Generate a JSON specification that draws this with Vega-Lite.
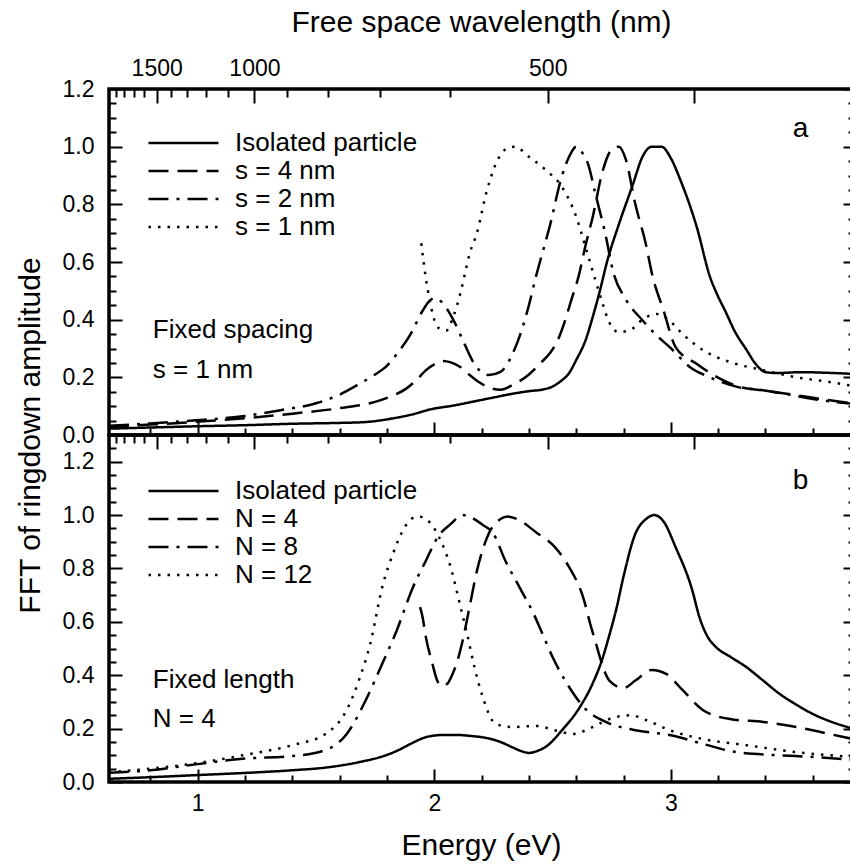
{
  "$schema": "https://vega.github.io/schema/vega-lite/v6.json",
  "padding": {"left": 13, "top": 5, "right": 0, "bottom": 0},
  "background": "white",
  "bounds": "flush",
  "spacing": 0,
  "datasets": {
    "a": [
      {"s": "Isolated particle", "E": 0.625, "v": 0.022},
      {"s": "Isolated particle", "E": 0.8, "v": 0.026},
      {"s": "Isolated particle", "E": 0.98, "v": 0.03},
      {"s": "Isolated particle", "E": 1.2, "v": 0.034},
      {"s": "Isolated particle", "E": 1.4, "v": 0.039},
      {"s": "Isolated particle", "E": 1.6, "v": 0.042},
      {"s": "Isolated particle", "E": 1.71, "v": 0.045},
      {"s": "Isolated particle", "E": 1.82, "v": 0.057},
      {"s": "Isolated particle", "E": 1.9, "v": 0.07},
      {"s": "Isolated particle", "E": 1.99, "v": 0.09},
      {"s": "Isolated particle", "E": 2.08, "v": 0.102},
      {"s": "Isolated particle", "E": 2.16, "v": 0.115},
      {"s": "Isolated particle", "E": 2.25, "v": 0.13},
      {"s": "Isolated particle", "E": 2.33, "v": 0.143},
      {"s": "Isolated particle", "E": 2.4, "v": 0.152},
      {"s": "Isolated particle", "E": 2.46, "v": 0.158},
      {"s": "Isolated particle", "E": 2.5, "v": 0.168},
      {"s": "Isolated particle", "E": 2.53, "v": 0.184},
      {"s": "Isolated particle", "E": 2.57, "v": 0.215},
      {"s": "Isolated particle", "E": 2.6, "v": 0.26},
      {"s": "Isolated particle", "E": 2.64, "v": 0.33},
      {"s": "Isolated particle", "E": 2.67, "v": 0.41},
      {"s": "Isolated particle", "E": 2.7, "v": 0.5},
      {"s": "Isolated particle", "E": 2.73, "v": 0.6},
      {"s": "Isolated particle", "E": 2.78, "v": 0.73},
      {"s": "Isolated particle", "E": 2.84, "v": 0.87},
      {"s": "Isolated particle", "E": 2.88, "v": 0.965},
      {"s": "Isolated particle", "E": 2.92, "v": 1.0},
      {"s": "Isolated particle", "E": 2.96, "v": 1.0},
      {"s": "Isolated particle", "E": 3.0, "v": 0.96},
      {"s": "Isolated particle", "E": 3.04, "v": 0.885},
      {"s": "Isolated particle", "E": 3.11, "v": 0.72},
      {"s": "Isolated particle", "E": 3.165, "v": 0.55},
      {"s": "Isolated particle", "E": 3.2, "v": 0.48},
      {"s": "Isolated particle", "E": 3.23, "v": 0.43},
      {"s": "Isolated particle", "E": 3.27, "v": 0.36},
      {"s": "Isolated particle", "E": 3.32, "v": 0.295},
      {"s": "Isolated particle", "E": 3.36, "v": 0.245},
      {"s": "Isolated particle", "E": 3.4, "v": 0.218},
      {"s": "Isolated particle", "E": 3.45, "v": 0.215},
      {"s": "Isolated particle", "E": 3.55, "v": 0.218},
      {"s": "Isolated particle", "E": 3.65, "v": 0.216},
      {"s": "Isolated particle", "E": 3.77, "v": 0.212},

      {"s": "s = 4 nm", "E": 0.625, "v": 0.028},
      {"s": "s = 4 nm", "E": 0.8, "v": 0.036},
      {"s": "s = 4 nm", "E": 0.98, "v": 0.045},
      {"s": "s = 4 nm", "E": 1.2, "v": 0.058},
      {"s": "s = 4 nm", "E": 1.4, "v": 0.074},
      {"s": "s = 4 nm", "E": 1.6, "v": 0.093},
      {"s": "s = 4 nm", "E": 1.75, "v": 0.115},
      {"s": "s = 4 nm", "E": 1.82, "v": 0.135},
      {"s": "s = 4 nm", "E": 1.88, "v": 0.16},
      {"s": "s = 4 nm", "E": 1.93, "v": 0.195},
      {"s": "s = 4 nm", "E": 1.965, "v": 0.225},
      {"s": "s = 4 nm", "E": 2.0, "v": 0.245},
      {"s": "s = 4 nm", "E": 2.036, "v": 0.257},
      {"s": "s = 4 nm", "E": 2.07, "v": 0.252},
      {"s": "s = 4 nm", "E": 2.11, "v": 0.236},
      {"s": "s = 4 nm", "E": 2.15, "v": 0.208},
      {"s": "s = 4 nm", "E": 2.19, "v": 0.183},
      {"s": "s = 4 nm", "E": 2.23, "v": 0.165},
      {"s": "s = 4 nm", "E": 2.28, "v": 0.157},
      {"s": "s = 4 nm", "E": 2.33, "v": 0.173},
      {"s": "s = 4 nm", "E": 2.4, "v": 0.21},
      {"s": "s = 4 nm", "E": 2.45, "v": 0.25},
      {"s": "s = 4 nm", "E": 2.49, "v": 0.285},
      {"s": "s = 4 nm", "E": 2.52, "v": 0.325},
      {"s": "s = 4 nm", "E": 2.55, "v": 0.39},
      {"s": "s = 4 nm", "E": 2.58, "v": 0.47},
      {"s": "s = 4 nm", "E": 2.61, "v": 0.55},
      {"s": "s = 4 nm", "E": 2.64, "v": 0.66},
      {"s": "s = 4 nm", "E": 2.67, "v": 0.757},
      {"s": "s = 4 nm", "E": 2.71, "v": 0.91},
      {"s": "s = 4 nm", "E": 2.75, "v": 0.99},
      {"s": "s = 4 nm", "E": 2.78, "v": 1.0},
      {"s": "s = 4 nm", "E": 2.81, "v": 0.955},
      {"s": "s = 4 nm", "E": 2.85, "v": 0.8},
      {"s": "s = 4 nm", "E": 2.895, "v": 0.66},
      {"s": "s = 4 nm", "E": 2.92, "v": 0.56},
      {"s": "s = 4 nm", "E": 2.97, "v": 0.43},
      {"s": "s = 4 nm", "E": 3.02, "v": 0.305},
      {"s": "s = 4 nm", "E": 3.107, "v": 0.248},
      {"s": "s = 4 nm", "E": 3.22, "v": 0.19},
      {"s": "s = 4 nm", "E": 3.29, "v": 0.167},
      {"s": "s = 4 nm", "E": 3.39, "v": 0.155},
      {"s": "s = 4 nm", "E": 3.53, "v": 0.138},
      {"s": "s = 4 nm", "E": 3.65, "v": 0.123},
      {"s": "s = 4 nm", "E": 3.77, "v": 0.109},

      {"s": "s = 2 nm", "E": 0.625, "v": 0.032},
      {"s": "s = 2 nm", "E": 0.8, "v": 0.04},
      {"s": "s = 2 nm", "E": 0.98, "v": 0.05},
      {"s": "s = 2 nm", "E": 1.2, "v": 0.066},
      {"s": "s = 2 nm", "E": 1.35, "v": 0.086},
      {"s": "s = 2 nm", "E": 1.5, "v": 0.11},
      {"s": "s = 2 nm", "E": 1.6, "v": 0.14},
      {"s": "s = 2 nm", "E": 1.685, "v": 0.178},
      {"s": "s = 2 nm", "E": 1.75, "v": 0.21},
      {"s": "s = 2 nm", "E": 1.795, "v": 0.236},
      {"s": "s = 2 nm", "E": 1.85, "v": 0.29},
      {"s": "s = 2 nm", "E": 1.9, "v": 0.35},
      {"s": "s = 2 nm", "E": 1.95, "v": 0.43},
      {"s": "s = 2 nm", "E": 1.98, "v": 0.465},
      {"s": "s = 2 nm", "E": 2.0, "v": 0.475},
      {"s": "s = 2 nm", "E": 2.03, "v": 0.462},
      {"s": "s = 2 nm", "E": 2.08, "v": 0.4},
      {"s": "s = 2 nm", "E": 2.12, "v": 0.33},
      {"s": "s = 2 nm", "E": 2.16, "v": 0.26},
      {"s": "s = 2 nm", "E": 2.19, "v": 0.225},
      {"s": "s = 2 nm", "E": 2.23, "v": 0.208},
      {"s": "s = 2 nm", "E": 2.28, "v": 0.219},
      {"s": "s = 2 nm", "E": 2.33, "v": 0.28},
      {"s": "s = 2 nm", "E": 2.37, "v": 0.365},
      {"s": "s = 2 nm", "E": 2.4, "v": 0.45},
      {"s": "s = 2 nm", "E": 2.43, "v": 0.55},
      {"s": "s = 2 nm", "E": 2.46, "v": 0.64},
      {"s": "s = 2 nm", "E": 2.49, "v": 0.73},
      {"s": "s = 2 nm", "E": 2.535, "v": 0.885},
      {"s": "s = 2 nm", "E": 2.57, "v": 0.965},
      {"s": "s = 2 nm", "E": 2.6, "v": 1.0},
      {"s": "s = 2 nm", "E": 2.625, "v": 0.98},
      {"s": "s = 2 nm", "E": 2.65, "v": 0.94},
      {"s": "s = 2 nm", "E": 2.68, "v": 0.84},
      {"s": "s = 2 nm", "E": 2.725, "v": 0.69},
      {"s": "s = 2 nm", "E": 2.755, "v": 0.57},
      {"s": "s = 2 nm", "E": 2.81, "v": 0.47},
      {"s": "s = 2 nm", "E": 2.88, "v": 0.398},
      {"s": "s = 2 nm", "E": 2.94, "v": 0.345},
      {"s": "s = 2 nm", "E": 2.995, "v": 0.305},
      {"s": "s = 2 nm", "E": 3.08, "v": 0.236},
      {"s": "s = 2 nm", "E": 3.165, "v": 0.2},
      {"s": "s = 2 nm", "E": 3.28, "v": 0.167},
      {"s": "s = 2 nm", "E": 3.39, "v": 0.155},
      {"s": "s = 2 nm", "E": 3.5, "v": 0.14},
      {"s": "s = 2 nm", "E": 3.6, "v": 0.125},
      {"s": "s = 2 nm", "E": 3.77, "v": 0.108},

      {"s": "s = 1 nm", "E": 1.945, "v": 0.665},
      {"s": "s = 1 nm", "E": 1.955, "v": 0.6},
      {"s": "s = 1 nm", "E": 1.965, "v": 0.54},
      {"s": "s = 1 nm", "E": 1.98, "v": 0.47},
      {"s": "s = 1 nm", "E": 2.0, "v": 0.4},
      {"s": "s = 1 nm", "E": 2.02, "v": 0.37},
      {"s": "s = 1 nm", "E": 2.05, "v": 0.362},
      {"s": "s = 1 nm", "E": 2.08, "v": 0.41},
      {"s": "s = 1 nm", "E": 2.11, "v": 0.49},
      {"s": "s = 1 nm", "E": 2.135, "v": 0.58},
      {"s": "s = 1 nm", "E": 2.15, "v": 0.63},
      {"s": "s = 1 nm", "E": 2.18, "v": 0.7},
      {"s": "s = 1 nm", "E": 2.22, "v": 0.84},
      {"s": "s = 1 nm", "E": 2.26, "v": 0.94},
      {"s": "s = 1 nm", "E": 2.3, "v": 0.99},
      {"s": "s = 1 nm", "E": 2.34, "v": 1.0},
      {"s": "s = 1 nm", "E": 2.4, "v": 0.965},
      {"s": "s = 1 nm", "E": 2.47, "v": 0.92},
      {"s": "s = 1 nm", "E": 2.54, "v": 0.86},
      {"s": "s = 1 nm", "E": 2.6, "v": 0.757},
      {"s": "s = 1 nm", "E": 2.64, "v": 0.65},
      {"s": "s = 1 nm", "E": 2.68, "v": 0.54},
      {"s": "s = 1 nm", "E": 2.71, "v": 0.46},
      {"s": "s = 1 nm", "E": 2.74, "v": 0.39},
      {"s": "s = 1 nm", "E": 2.78, "v": 0.357},
      {"s": "s = 1 nm", "E": 2.83, "v": 0.365},
      {"s": "s = 1 nm", "E": 2.88, "v": 0.4},
      {"s": "s = 1 nm", "E": 2.94, "v": 0.42},
      {"s": "s = 1 nm", "E": 2.99, "v": 0.4},
      {"s": "s = 1 nm", "E": 3.05, "v": 0.35},
      {"s": "s = 1 nm", "E": 3.135, "v": 0.295},
      {"s": "s = 1 nm", "E": 3.25, "v": 0.253},
      {"s": "s = 1 nm", "E": 3.39, "v": 0.225},
      {"s": "s = 1 nm", "E": 3.53, "v": 0.2},
      {"s": "s = 1 nm", "E": 3.67, "v": 0.184},
      {"s": "s = 1 nm", "E": 3.77, "v": 0.17}
    ],
    "b": [
      {"s": "Isolated particle", "E": 0.625, "v": 0.012},
      {"s": "Isolated particle", "E": 0.8, "v": 0.018},
      {"s": "Isolated particle", "E": 1.0, "v": 0.026},
      {"s": "Isolated particle", "E": 1.2, "v": 0.034},
      {"s": "Isolated particle", "E": 1.4, "v": 0.044},
      {"s": "Isolated particle", "E": 1.55, "v": 0.055},
      {"s": "Isolated particle", "E": 1.685, "v": 0.075},
      {"s": "Isolated particle", "E": 1.795, "v": 0.1},
      {"s": "Isolated particle", "E": 1.85, "v": 0.12},
      {"s": "Isolated particle", "E": 1.9, "v": 0.143},
      {"s": "Isolated particle", "E": 1.965, "v": 0.168},
      {"s": "Isolated particle", "E": 2.036, "v": 0.176},
      {"s": "Isolated particle", "E": 2.1, "v": 0.176},
      {"s": "Isolated particle", "E": 2.16, "v": 0.172},
      {"s": "Isolated particle", "E": 2.22, "v": 0.165},
      {"s": "Isolated particle", "E": 2.28, "v": 0.15},
      {"s": "Isolated particle", "E": 2.33, "v": 0.13},
      {"s": "Isolated particle", "E": 2.37, "v": 0.115},
      {"s": "Isolated particle", "E": 2.4, "v": 0.109},
      {"s": "Isolated particle", "E": 2.44, "v": 0.118},
      {"s": "Isolated particle", "E": 2.47, "v": 0.131},
      {"s": "Isolated particle", "E": 2.54, "v": 0.194},
      {"s": "Isolated particle", "E": 2.615, "v": 0.28},
      {"s": "Isolated particle", "E": 2.67, "v": 0.37},
      {"s": "Isolated particle", "E": 2.71, "v": 0.46},
      {"s": "Isolated particle", "E": 2.74, "v": 0.55},
      {"s": "Isolated particle", "E": 2.77, "v": 0.65},
      {"s": "Isolated particle", "E": 2.8, "v": 0.77},
      {"s": "Isolated particle", "E": 2.85, "v": 0.93},
      {"s": "Isolated particle", "E": 2.895, "v": 0.985},
      {"s": "Isolated particle", "E": 2.93, "v": 1.0},
      {"s": "Isolated particle", "E": 2.97, "v": 0.975},
      {"s": "Isolated particle", "E": 3.02, "v": 0.88},
      {"s": "Isolated particle", "E": 3.09, "v": 0.72},
      {"s": "Isolated particle", "E": 3.12, "v": 0.62},
      {"s": "Isolated particle", "E": 3.155, "v": 0.545},
      {"s": "Isolated particle", "E": 3.19, "v": 0.506},
      {"s": "Isolated particle", "E": 3.25, "v": 0.47},
      {"s": "Isolated particle", "E": 3.32, "v": 0.43},
      {"s": "Isolated particle", "E": 3.39, "v": 0.38},
      {"s": "Isolated particle", "E": 3.46, "v": 0.33},
      {"s": "Isolated particle", "E": 3.53, "v": 0.29},
      {"s": "Isolated particle", "E": 3.6, "v": 0.255},
      {"s": "Isolated particle", "E": 3.68, "v": 0.225},
      {"s": "Isolated particle", "E": 3.77, "v": 0.2},

      {"s": "N = 4", "E": 1.94, "v": 0.655},
      {"s": "N = 4", "E": 1.95, "v": 0.62},
      {"s": "N = 4", "E": 1.965, "v": 0.54},
      {"s": "N = 4", "E": 1.99, "v": 0.45},
      {"s": "N = 4", "E": 2.015, "v": 0.375},
      {"s": "N = 4", "E": 2.035, "v": 0.36},
      {"s": "N = 4", "E": 2.055, "v": 0.368},
      {"s": "N = 4", "E": 2.075, "v": 0.4},
      {"s": "N = 4", "E": 2.1, "v": 0.46},
      {"s": "N = 4", "E": 2.12, "v": 0.53},
      {"s": "N = 4", "E": 2.15, "v": 0.66},
      {"s": "N = 4", "E": 2.18, "v": 0.79},
      {"s": "N = 4", "E": 2.23, "v": 0.93},
      {"s": "N = 4", "E": 2.28, "v": 0.985},
      {"s": "N = 4", "E": 2.31, "v": 0.995},
      {"s": "N = 4", "E": 2.35, "v": 0.985},
      {"s": "N = 4", "E": 2.43, "v": 0.936},
      {"s": "N = 4", "E": 2.51, "v": 0.88},
      {"s": "N = 4", "E": 2.57, "v": 0.805},
      {"s": "N = 4", "E": 2.63, "v": 0.69},
      {"s": "N = 4", "E": 2.66, "v": 0.59},
      {"s": "N = 4", "E": 2.68, "v": 0.53},
      {"s": "N = 4", "E": 2.7, "v": 0.468},
      {"s": "N = 4", "E": 2.74, "v": 0.38},
      {"s": "N = 4", "E": 2.8, "v": 0.352},
      {"s": "N = 4", "E": 2.85, "v": 0.38},
      {"s": "N = 4", "E": 2.92, "v": 0.42},
      {"s": "N = 4", "E": 2.98, "v": 0.405},
      {"s": "N = 4", "E": 3.05, "v": 0.344},
      {"s": "N = 4", "E": 3.135, "v": 0.27},
      {"s": "N = 4", "E": 3.25, "v": 0.236},
      {"s": "N = 4", "E": 3.39, "v": 0.225},
      {"s": "N = 4", "E": 3.53, "v": 0.206},
      {"s": "N = 4", "E": 3.67, "v": 0.18},
      {"s": "N = 4", "E": 3.77, "v": 0.161},

      {"s": "N = 8", "E": 0.625, "v": 0.034},
      {"s": "N = 8", "E": 0.8, "v": 0.044},
      {"s": "N = 8", "E": 1.0, "v": 0.067},
      {"s": "N = 8", "E": 1.19, "v": 0.087},
      {"s": "N = 8", "E": 1.4, "v": 0.097},
      {"s": "N = 8", "E": 1.54, "v": 0.12},
      {"s": "N = 8", "E": 1.63, "v": 0.18},
      {"s": "N = 8", "E": 1.71, "v": 0.306},
      {"s": "N = 8", "E": 1.78, "v": 0.443},
      {"s": "N = 8", "E": 1.84, "v": 0.565},
      {"s": "N = 8", "E": 1.91, "v": 0.73},
      {"s": "N = 8", "E": 1.965, "v": 0.83},
      {"s": "N = 8", "E": 2.015, "v": 0.918},
      {"s": "N = 8", "E": 2.07, "v": 0.967},
      {"s": "N = 8", "E": 2.12, "v": 1.0},
      {"s": "N = 8", "E": 2.205, "v": 0.963},
      {"s": "N = 8", "E": 2.25, "v": 0.93},
      {"s": "N = 8", "E": 2.3, "v": 0.83},
      {"s": "N = 8", "E": 2.36, "v": 0.73},
      {"s": "N = 8", "E": 2.42, "v": 0.63},
      {"s": "N = 8", "E": 2.45, "v": 0.57},
      {"s": "N = 8", "E": 2.5, "v": 0.468},
      {"s": "N = 8", "E": 2.57, "v": 0.356},
      {"s": "N = 8", "E": 2.64, "v": 0.273},
      {"s": "N = 8", "E": 2.725, "v": 0.225},
      {"s": "N = 8", "E": 2.85, "v": 0.194},
      {"s": "N = 8", "E": 2.995, "v": 0.176},
      {"s": "N = 8", "E": 3.135, "v": 0.143},
      {"s": "N = 8", "E": 3.275, "v": 0.112},
      {"s": "N = 8", "E": 3.46, "v": 0.1},
      {"s": "N = 8", "E": 3.6, "v": 0.094},
      {"s": "N = 8", "E": 3.77, "v": 0.083},

      {"s": "N = 12", "E": 0.625, "v": 0.037},
      {"s": "N = 12", "E": 0.8, "v": 0.05},
      {"s": "N = 12", "E": 1.0, "v": 0.071},
      {"s": "N = 12", "E": 1.19, "v": 0.1},
      {"s": "N = 12", "E": 1.4, "v": 0.138},
      {"s": "N = 12", "E": 1.54, "v": 0.18},
      {"s": "N = 12", "E": 1.63, "v": 0.27},
      {"s": "N = 12", "E": 1.685, "v": 0.39},
      {"s": "N = 12", "E": 1.73, "v": 0.52},
      {"s": "N = 12", "E": 1.78, "v": 0.73},
      {"s": "N = 12", "E": 1.825, "v": 0.854},
      {"s": "N = 12", "E": 1.875, "v": 0.955},
      {"s": "N = 12", "E": 1.93, "v": 0.995},
      {"s": "N = 12", "E": 1.965, "v": 0.985},
      {"s": "N = 12", "E": 2.02, "v": 0.918},
      {"s": "N = 12", "E": 2.065, "v": 0.817},
      {"s": "N = 12", "E": 2.11, "v": 0.66},
      {"s": "N = 12", "E": 2.14, "v": 0.55},
      {"s": "N = 12", "E": 2.17, "v": 0.43},
      {"s": "N = 12", "E": 2.205, "v": 0.318},
      {"s": "N = 12", "E": 2.26, "v": 0.217},
      {"s": "N = 12", "E": 2.33, "v": 0.206},
      {"s": "N = 12", "E": 2.43, "v": 0.21},
      {"s": "N = 12", "E": 2.51, "v": 0.194},
      {"s": "N = 12", "E": 2.585, "v": 0.18},
      {"s": "N = 12", "E": 2.67, "v": 0.206},
      {"s": "N = 12", "E": 2.74, "v": 0.236},
      {"s": "N = 12", "E": 2.83, "v": 0.25},
      {"s": "N = 12", "E": 2.895, "v": 0.232},
      {"s": "N = 12", "E": 2.995, "v": 0.194},
      {"s": "N = 12", "E": 3.135, "v": 0.161},
      {"s": "N = 12", "E": 3.32, "v": 0.138},
      {"s": "N = 12", "E": 3.53, "v": 0.112},
      {"s": "N = 12", "E": 3.77, "v": 0.094}
    ],
    "ann": [
      {"panel": "a", "t": "Fixed spacing", "E": 0.81, "v": 0.337, "kind": "note"},
      {"panel": "a", "t": "s = 1 nm", "E": 0.81, "v": 0.198, "kind": "note"},
      {"panel": "a", "t": "a", "E": 3.515, "v": 1.035, "kind": "tag"},
      {"panel": "b", "t": "Fixed length", "E": 0.81, "v": 0.352, "kind": "note"},
      {"panel": "b", "t": "N = 4", "E": 0.81, "v": 0.206, "kind": "note"},
      {"panel": "b", "t": "b", "E": 3.515, "v": 1.097, "kind": "tag"}
    ]
  },
  "vconcat": [
    {
      "width": 744,
      "height": 346,
      "resolve": {"axis": {"x": "independent", "y": "independent"}},
      "layer": [
        {
          "data": {"name": "a"},
          "mark": {"type": "line", "color": "black", "strokeWidth": 2.5, "interpolate": "monotone", "clip": true},
          "encoding": {
            "x": {"field": "E", "type": "quantitative", "scale": {"domain": [0.625, 3.77], "nice": false, "zero": false},
              "axis": {"orient": "bottom", "values": [1, 2, 3], "tickSize": -13, "labels": false, "title": null}},
            "y": {"field": "v", "type": "quantitative", "scale": {"domain": [0, 1.2], "nice": false},
              "axis": {"orient": "left", "values": [0, 0.2, 0.4, 0.6, 0.8, 1.0, 1.2], "tickSize": -13, "format": ".1f", "labelPadding": 28, "labelFontSize": 23, "title": null}},
            "strokeDash": {"field": "s", "type": "nominal",
              "scale": {"domain": ["Isolated particle", "s = 4 nm", "s = 2 nm", "s = 1 nm"], "range": [[1, 0], [20, 9], [20, 8, 3, 8], [2.5, 7]]},
              "legend": {"orient": "none", "legendX": 38, "legendY": 40, "title": null}}
          }
        },
        {
          "data": {"name": "a"},
          "mark": {"type": "point", "opacity": 0},
          "encoding": {
            "x": {"field": "E", "type": "quantitative", "scale": {"domain": [0.625, 3.77], "nice": false, "zero": false},
              "axis": {"orient": "bottom", "values": [0.8, 1.2, 1.4, 1.6, 1.8, 2.2, 2.4, 2.6, 2.8, 3.2, 3.4, 3.6], "tickSize": -7, "labels": false, "title": null}},
            "y": {"field": "v", "type": "quantitative", "scale": {"domain": [0, 1.2], "nice": false},
              "axis": {"orient": "left", "values": [0.05, 0.1, 0.15, 0.25, 0.3, 0.35, 0.45, 0.5, 0.55, 0.65, 0.7, 0.75, 0.85, 0.9, 0.95, 1.05, 1.1, 1.15], "tickSize": -7, "labels": false, "title": null}}
          }
        },
        {
          "data": {"name": "a"},
          "mark": {"type": "point", "opacity": 0},
          "encoding": {
            "x": {"field": "E", "type": "quantitative", "scale": {"domain": [0.625, 3.77], "nice": false, "zero": false},
              "axis": {"orient": "top", "values": [0.82656, 1.23984, 2.47968, 3.0996], "tickSize": -14, "labelPadding": 23, "labelFontSize": 23,
                "labelExpr": "datum.value > 3 ? '' : format(1239.84 / datum.value, '.0f')",
                "title": "Free space wavelength (nm)", "titlePadding": 20}},
            "y": {"field": "v", "type": "quantitative", "scale": {"domain": [0, 1.2], "nice": false},
              "axis": {"orient": "right", "values": [0, 0.2, 0.4, 0.6, 0.8, 1.0, 1.2], "tickSize": -10, "labels": false, "title": null}}
          }
        },
        {
          "data": {"name": "a"},
          "mark": {"type": "point", "opacity": 0},
          "encoding": {
            "x": {"field": "E", "type": "quantitative", "scale": {"domain": [0.625, 3.77], "nice": false, "zero": false},
              "axis": {"orient": "top", "values": [0.65255, 0.6888, 0.72932, 0.7749, 0.8856, 0.95372, 1.0332, 1.12713, 1.3776, 1.5498, 1.7712, 2.0664], "tickSize": -8, "labels": false, "title": null}},
            "y": {"field": "v", "type": "quantitative", "scale": {"domain": [0, 1.2], "nice": false},
              "axis": {"orient": "right", "values": [0.05, 0.1, 0.15, 0.25, 0.3, 0.35, 0.45, 0.5, 0.55, 0.65, 0.7, 0.75, 0.85, 0.9, 0.95, 1.05, 1.1, 1.15], "tickSize": -5, "labels": false, "title": null}}
          }
        },
        {
          "data": {"name": "ann"},
          "transform": [{"filter": "datum.panel == 'a'"}],
          "mark": {"type": "text", "font": "Liberation Sans", "fontSize": 26, "align": "left", "baseline": "alphabetic", "color": "black"},
          "encoding": {
            "x": {"field": "E", "type": "quantitative", "scale": {"domain": [0.625, 3.77], "nice": false, "zero": false}, "axis": null},
            "y": {"field": "v", "type": "quantitative", "scale": {"domain": [0, 1.2], "nice": false}, "axis": null},
            "text": {"field": "t"},
            "size": {"condition": {"test": "datum.kind == 'tag'", "value": 28}, "value": 26}
          }
        }
      ]
    },
    {
      "width": 744,
      "height": 347,
      "resolve": {"axis": {"x": "independent", "y": "independent"}},
      "layer": [
        {
          "data": {"name": "b"},
          "mark": {"type": "line", "color": "black", "strokeWidth": 2.5, "interpolate": "monotone", "clip": true},
          "encoding": {
            "x": {"field": "E", "type": "quantitative", "scale": {"domain": [0.625, 3.77], "nice": false, "zero": false},
              "axis": {"orient": "bottom", "values": [1, 2, 3], "tickSize": -13, "labelPadding": 23, "labelFontSize": 23, "title": "Energy (eV)", "titlePadding": 15}},
            "y": {"field": "v", "type": "quantitative", "scale": {"domain": [0, 1.3], "nice": false},
              "axis": {"orient": "left", "values": [0, 0.2, 0.4, 0.6, 0.8, 1.0, 1.2], "tickSize": -13, "format": ".1f", "labelPadding": 28, "labelFontSize": 23,
                "title": "FFT of ringdown amplitude", "titleX": -79, "titleY": 0, "titleAngle": 270, "titleAlign": "center", "titleBaseline": "middle"}},
            "strokeDash": {"field": "s", "type": "nominal",
              "scale": {"domain": ["Isolated particle", "N = 4", "N = 8", "N = 12"], "range": [[1, 0], [20, 9], [20, 8, 3, 8], [2.5, 7]]},
              "legend": {"orient": "none", "legendX": 38, "legendY": 42, "title": null}}
          }
        },
        {
          "data": {"name": "b"},
          "mark": {"type": "point", "opacity": 0},
          "encoding": {
            "x": {"field": "E", "type": "quantitative", "scale": {"domain": [0.625, 3.77], "nice": false, "zero": false},
              "axis": {"orient": "bottom", "values": [0.8, 1.2, 1.4, 1.6, 1.8, 2.2, 2.4, 2.6, 2.8, 3.2, 3.4, 3.6], "tickSize": -7, "labels": false, "title": null}},
            "y": {"field": "v", "type": "quantitative", "scale": {"domain": [0, 1.3], "nice": false},
              "axis": {"orient": "left", "values": [0.05, 0.1, 0.15, 0.25, 0.3, 0.35, 0.45, 0.5, 0.55, 0.65, 0.7, 0.75, 0.85, 0.9, 0.95, 1.05, 1.1, 1.15, 1.25], "tickSize": -7, "labels": false, "title": null}}
          }
        },
        {
          "data": {"name": "b"},
          "mark": {"type": "point", "opacity": 0},
          "encoding": {
            "x": {"field": "E", "type": "quantitative", "scale": {"domain": [0.625, 3.77], "nice": false, "zero": false},
              "axis": {"orient": "top", "values": [0.82656, 1.23984, 2.47968, 3.0996], "tickSize": -14, "labels": false, "title": null}},
            "y": {"field": "v", "type": "quantitative", "scale": {"domain": [0, 1.3], "nice": false},
              "axis": {"orient": "right", "values": [0, 0.2, 0.4, 0.6, 0.8, 1.0, 1.2], "tickSize": -10, "labels": false, "title": null}}
          }
        },
        {
          "data": {"name": "b"},
          "mark": {"type": "point", "opacity": 0},
          "encoding": {
            "x": {"field": "E", "type": "quantitative", "scale": {"domain": [0.625, 3.77], "nice": false, "zero": false},
              "axis": {"orient": "top", "values": [0.65255, 0.6888, 0.72932, 0.7749, 0.8856, 0.95372, 1.0332, 1.12713, 1.3776, 1.5498, 1.7712, 2.0664], "tickSize": -8, "labels": false, "title": null}},
            "y": {"field": "v", "type": "quantitative", "scale": {"domain": [0, 1.3], "nice": false},
              "axis": {"orient": "right", "values": [0.05, 0.1, 0.15, 0.25, 0.3, 0.35, 0.45, 0.5, 0.55, 0.65, 0.7, 0.75, 0.85, 0.9, 0.95, 1.05, 1.1, 1.15, 1.25], "tickSize": -5, "labels": false, "title": null}}
          }
        },
        {
          "data": {"name": "ann"},
          "transform": [{"filter": "datum.panel == 'b'"}],
          "mark": {"type": "text", "font": "Liberation Sans", "fontSize": 26, "align": "left", "baseline": "alphabetic", "color": "black"},
          "encoding": {
            "x": {"field": "E", "type": "quantitative", "scale": {"domain": [0.625, 3.77], "nice": false, "zero": false}, "axis": null},
            "y": {"field": "v", "type": "quantitative", "scale": {"domain": [0, 1.3], "nice": false}, "axis": null},
            "text": {"field": "t"},
            "size": {"condition": {"test": "datum.kind == 'tag'", "value": 28}, "value": 26}
          }
        }
      ]
    }
  ],
  "resolve": {"scale": {"strokeDash": "independent"}, "legend": {"strokeDash": "independent"}},
  "config": {
    "view": {"stroke": "black", "strokeWidth": 3.5},
    "axis": {
      "domain": false, "grid": false, "tickColor": "black", "tickWidth": 2, "labelColor": "black", "titleColor": "black",
      "labelFont": "Liberation Sans", "titleFont": "Liberation Sans", "labelFontSize": 23, "titleFontSize": 30,
      "titleFontWeight": "normal", "labelFlush": false, "labelOverlap": false
    },
    "legend": {
      "symbolType": "stroke", "symbolSize": 4900, "symbolStrokeWidth": 2.5, "symbolStrokeColor": "black",
      "labelFont": "Liberation Sans", "labelFontSize": 26, "labelColor": "black", "labelOffset": 15,
      "clipHeight": 28, "rowPadding": 0, "padding": 0, "labelLimit": 400
    }
  }
}
